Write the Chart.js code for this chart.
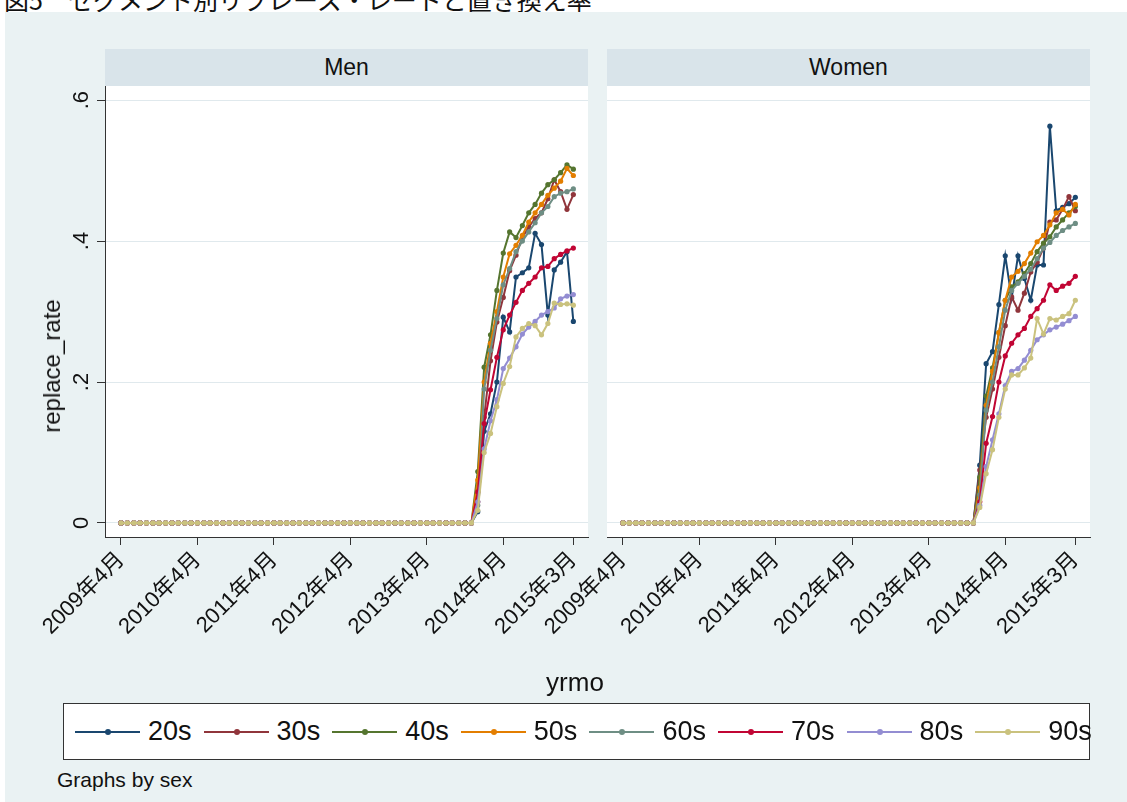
<!DOCTYPE html>
<html>
<head>
<meta charset="utf-8">
<script src="https://cdn.jsdelivr.net/npm/chart.js@4.4.1/dist/chart.umd.min.js"></script>
<style>
  body { margin: 0; width: 1127px; height: 802px; background: #fff; position: relative; overflow: hidden;
         font-family: "Liberation Sans", "Noto Sans CJK JP", sans-serif; color: #111; }
  #title { position: absolute; left: 4px; top: -13px; font-size: 25px; line-height: 25px; white-space: nowrap;
           font-family: "Noto Sans CJK JP", sans-serif; }
  #region { position: absolute; left: 5px; top: 12px; width: 1122px; height: 790px; background: #eaf2f3; }
  .strip { position: absolute; top: 49px; height: 37px; background: #d9e4ea; text-align: center;
           font-size: 23px; line-height: 37px; }
  canvas { position: absolute; }
  #ytitle { position: absolute; left: 52px; top: 366px; font-size: 24px; white-space: nowrap;
            transform: translate(-50%, -50%) rotate(-90deg); }
  #xtitle { position: absolute; left: 575px; top: 682px; font-size: 26px; transform: translate(-50%, -50%); }
  #legend { position: absolute; left: 63px; top: 703px; width: 1027px; height: 57px; background: #fff;
            border: 1px solid #333; box-sizing: border-box; }
  .item { position: absolute; top: 0; height: 55px; }
  .item .ln { position: absolute; left: 0; top: 27px; width: 65px; height: 2px; }
  .item .dot { position: absolute; left: 30px; top: 25px; width: 6px; height: 6px; border-radius: 50%; }
  .item span { position: absolute; left: 73px; top: 0; line-height: 55px; font-size: 27px; white-space: nowrap; }
  #note { position: absolute; left: 57px; top: 768px; font-size: 21px; line-height: 24px; }
</style>
</head>
<body>
<div id="title">図5　セグメント別リプレース・レートと置き換え率</div>
<div id="region"></div>
<div class="strip" style="left:105px;width:483px;">Men</div>
<div class="strip" style="left:607px;width:483px;">Women</div>
<canvas id="men" width="600" height="620" style="left:0px;top:56px;"></canvas>
<canvas id="women" width="600" height="620" style="left:510px;top:56px;"></canvas>
<div id="ytitle">replace_rate</div>
<div id="xtitle">yrmo</div>
<div id="legend"></div>
<div id="note">Graphs by sex</div>
<script>
// monthly dates (Stata %tm: 591 = 2009m4 ... 662 = 2015m3)
const months = [591, 592, 593, 594, 595, 596, 597, 598, 599, 600,
                601, 602, 603, 604, 605, 606, 607, 608, 609, 610,
                611, 612, 613, 614, 615, 616, 617, 618, 619, 620,
                621, 622, 623, 624, 625, 626, 627, 628, 629, 630,
                631, 632, 633, 634, 635, 636, 637, 638, 639, 640,
                641, 642, 643, 644, 645, 646, 647, 648, 649, 650,
                651, 652, 653, 654, 655, 656, 657, 658, 659, 660,
                661, 662];
const tickMonths = [591, 603, 615, 627, 639, 651, 662];
const tickLabels = ['2009年4月', '2010年4月', '2011年4月', '2012年4月', '2013年4月', '2014年4月', '2015年3月'];
const yTicks = [0, 0.2, 0.4, 0.6];
const yTickLabels = ['0', '.2', '.4', '.6'];
const ageGroups = ['20s', '30s', '40s', '50s', '60s', '70s', '80s', '90s'];

// 2009m4 - 2013m11: no replacements yet
const flat = [0, 0, 0, 0, 0, 0, 0, 0, 0, 0, 0, 0, 0, 0, 0, 0, 0, 0, 0, 0,
              0, 0, 0, 0, 0, 0, 0, 0, 0, 0, 0, 0, 0, 0, 0, 0, 0, 0, 0, 0,
              0, 0, 0, 0, 0, 0, 0, 0, 0, 0, 0, 0, 0, 0, 0, 0];

// Men, 2013m12 - 2015m3
const men20s = flat.concat([0.016, 0.13, 0.155, 0.2, 0.292, 0.271, 0.349, 0.355, 0.362, 0.411, 0.395, 0.295, 0.359, 0.37, 0.385, 0.286]);
const men30s = flat.concat([0.03, 0.15, 0.23, 0.285, 0.32, 0.358, 0.38, 0.405, 0.42, 0.432, 0.44, 0.46, 0.487, 0.47, 0.445, 0.466]);
const men40s = flat.concat([0.073, 0.221, 0.267, 0.33, 0.383, 0.413, 0.405, 0.422, 0.44, 0.452, 0.468, 0.48, 0.487, 0.497, 0.508, 0.502]);
const men50s = flat.concat([0.061, 0.2, 0.255, 0.3, 0.349, 0.382, 0.394, 0.408, 0.427, 0.44, 0.452, 0.465, 0.475, 0.485, 0.503, 0.493]);
const men60s = flat.concat([0.025, 0.19, 0.245, 0.29, 0.338, 0.361, 0.385, 0.4, 0.413, 0.426, 0.44, 0.449, 0.463, 0.468, 0.47, 0.474]);
const men70s = flat.concat([0.044, 0.141, 0.189, 0.235, 0.274, 0.295, 0.313, 0.33, 0.34, 0.349, 0.362, 0.364, 0.375, 0.381, 0.386, 0.39]);
const men80s = flat.concat([0.03, 0.105, 0.145, 0.175, 0.219, 0.234, 0.25, 0.268, 0.278, 0.286, 0.295, 0.3, 0.305, 0.318, 0.322, 0.324]);
const men90s = flat.concat([0.018, 0.1, 0.127, 0.165, 0.198, 0.222, 0.264, 0.276, 0.283, 0.28, 0.267, 0.283, 0.312, 0.31, 0.311, 0.309]);

// Women, 2013m12 - 2015m3
const women20s = flat.concat([0.082, 0.226, 0.243, 0.31, 0.379, 0.319, 0.379, 0.347, 0.316, 0.366, 0.366, 0.563, 0.443, 0.448, 0.453, 0.462]);
const women30s = flat.concat([0.075, 0.15, 0.19, 0.235, 0.28, 0.321, 0.302, 0.326, 0.356, 0.37, 0.39, 0.427, 0.43, 0.445, 0.463, 0.443]);
const women40s = flat.concat([0.065, 0.18, 0.22, 0.27, 0.316, 0.335, 0.342, 0.354, 0.368, 0.385, 0.397, 0.406, 0.42, 0.43, 0.44, 0.449]);
const women50s = flat.concat([0.05, 0.167, 0.215, 0.27, 0.316, 0.349, 0.357, 0.368, 0.383, 0.399, 0.408, 0.423, 0.44, 0.445, 0.437, 0.452]);
const women60s = flat.concat([0.04, 0.16, 0.2, 0.25, 0.302, 0.33, 0.34, 0.35, 0.36, 0.375, 0.39, 0.398, 0.408, 0.415, 0.42, 0.425]);
const women70s = flat.concat([0.03, 0.113, 0.151, 0.2, 0.237, 0.255, 0.267, 0.276, 0.293, 0.304, 0.316, 0.338, 0.33, 0.336, 0.34, 0.35]);
const women80s = flat.concat([0.025, 0.08, 0.118, 0.155, 0.195, 0.215, 0.219, 0.231, 0.245, 0.26, 0.267, 0.274, 0.278, 0.282, 0.287, 0.293]);
const women90s = flat.concat([0.022, 0.07, 0.104, 0.15, 0.19, 0.21, 0.21, 0.22, 0.234, 0.29, 0.268, 0.29, 0.288, 0.293, 0.297, 0.316]);

const menSeries = [men20s, men30s, men40s, men50s, men60s, men70s, men80s, men90s];
const womenSeries = [women20s, women30s, women40s, women50s, women60s, women70s, women80s, women90s];

// Stata s2color palette
const colors = ['#1a476f', '#90353b', '#55752f', '#e37e00', '#6e8e84', '#c10534', '#938dd2', '#cac27e'];
const fontFamily = '"Liberation Sans", "Noto Sans CJK JP", sans-serif';

// white plot region
const plotBg = {
  id: 'plotBg',
  beforeDraw(chart) {
    const { ctx, chartArea: a } = chart;
    ctx.save();
    ctx.fillStyle = '#fff';
    ctx.fillRect(a.left, a.top, a.right - a.left, a.bottom - a.top);
    ctx.restore();
  }
};

// vertical y tick labels like Stata's
const yLabels = {
  id: 'yLabels',
  afterDraw(chart) {
    if (!chart.options.plugins.yLabels.show) return;
    const ctx = chart.ctx;
    const y = chart.scales.y;
    ctx.save();
    ctx.font = '22px ' + fontFamily;
    ctx.fillStyle = '#111';
    ctx.textAlign = 'center';
    ctx.textBaseline = 'middle';
    yTicks.forEach((v, i) => {
      ctx.save();
      ctx.translate(82, y.getPixelForValue(v));
      ctx.rotate(-Math.PI / 2);
      ctx.fillText(yTickLabels[i], 0, 0);
      ctx.restore();
    });
    ctx.restore();
  }
};

function makePanel(id, series, isLeft, yWidth, padRight) {
  const datasets = series.map((data, i) => ({
    label: ageGroups[i],
    data: data,
    borderColor: colors[i],
    backgroundColor: colors[i],
    pointBackgroundColor: colors[i],
    borderWidth: 2,
    pointRadius: 2.6,
    pointBorderWidth: 0,
    tension: 0,
    order: 7 - i
  }));

  return new Chart(document.getElementById(id), {
    type: 'line',
    data: { labels: months, datasets: datasets },
    plugins: [plotBg, yLabels],
    options: {
      responsive: false,
      animation: false,
      devicePixelRatio: 1,
      layout: { padding: { left: 0, top: 30, right: padRight, bottom: 0 } },
      plugins: {
        legend: { display: false },
        tooltip: { enabled: false },
        yLabels: { show: isLeft }
      },
      scales: {
        x: {
          type: 'linear',
          min: 588.49,
          max: 664.3,
          afterBuildTicks: s => { s.ticks = tickMonths.map(v => ({ value: v })); },
          afterFit: s => { s.height = 139; },
          ticks: {
            autoSkip: false,
            maxRotation: 45,
            minRotation: 45,
            padding: 2,
            color: '#111',
            font: { family: fontFamily, size: 22 },
            callback: v => tickLabels[tickMonths.indexOf(v)]
          },
          grid: { drawOnChartArea: false, drawTicks: true, tickLength: 8, tickColor: '#333' },
          border: { display: true, color: '#333', width: 1 }
        },
        y: {
          min: -0.0199,
          max: 0.62,
          afterBuildTicks: s => { s.ticks = yTicks.map(v => ({ value: v })); },
          afterFit: s => { s.width = yWidth; },
          ticks: { display: false },
          grid: { color: '#e0e9ed', lineWidth: 1, drawTicks: isLeft, tickLength: 8, tickColor: '#333' },
          border: { display: isLeft, color: '#333', width: 1 }
        }
      }
    }
  });
}

makePanel('men', menSeries, true, 105, 12);
makePanel('women', womenSeries, false, 97, 20);

// legend
const legend = document.getElementById('legend');
ageGroups.forEach((name, i) => {
  const item = document.createElement('div');
  item.className = 'item';
  item.style.left = (11 + 128.6 * i) + 'px';
  item.innerHTML = '<div class="ln" style="background:' + colors[i] + '"></div>' +
                   '<div class="dot" style="background:' + colors[i] + '"></div>' +
                   '<span>' + name + '</span>';
  legend.appendChild(item);
});
</script>
</body>
</html>
